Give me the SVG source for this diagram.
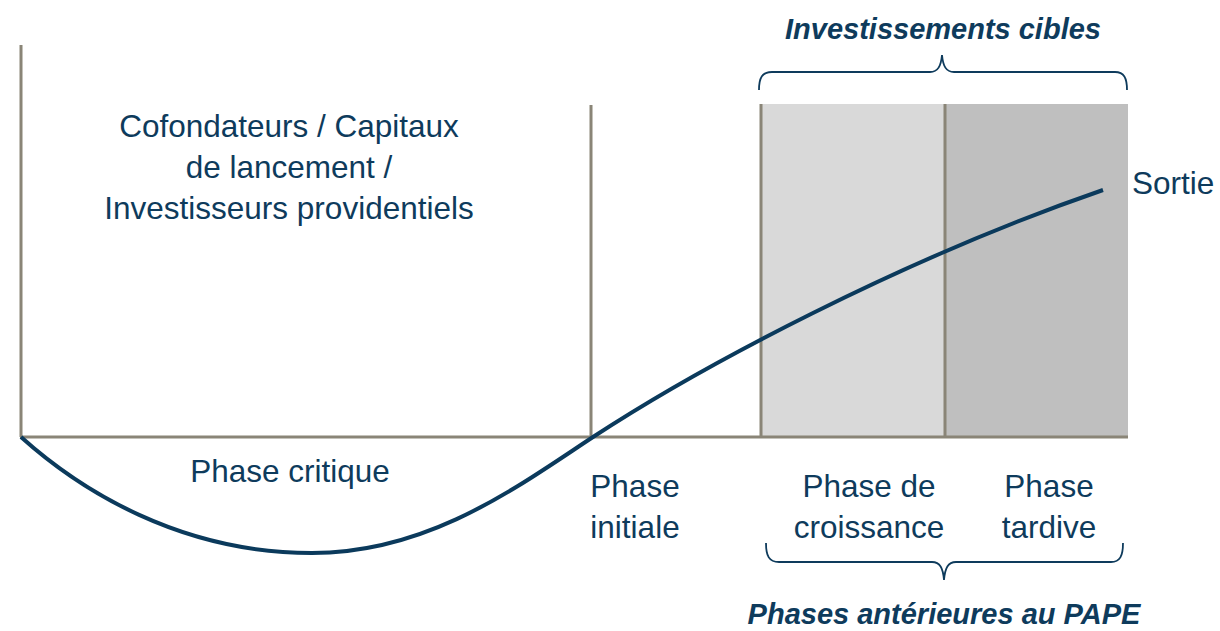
<svg xmlns="http://www.w3.org/2000/svg" width="1220" height="631" viewBox="0 0 1220 631">
<style>
.ax{stroke:#8A8577;stroke-width:3;fill:none}
.br{stroke:#0E3B5C;stroke-width:1.8;fill:none}
.t{font-family:"Liberation Sans",Arial,sans-serif;font-size:31.5px;fill:#0E3B5C;text-anchor:middle}
.h{font-family:"Liberation Sans",Arial,sans-serif;font-size:29px;font-weight:bold;font-style:italic;fill:#0E3B5C;text-anchor:middle}
</style>
<rect width="1220" height="631" fill="#fff"/>
<g id="zones">
<rect x="761" y="104" width="184" height="333" fill="#D9D9D9"/>
<rect x="945" y="104" width="183" height="333" fill="#BFBFBF"/>
</g>
<g id="axes">
<line class="ax" x1="21" y1="45" x2="21" y2="437"/>
<line class="ax" x1="20" y1="437" x2="1128" y2="437"/>
<line class="ax" x1="591" y1="105" x2="591" y2="437"/>
<line class="ax" x1="761" y1="104" x2="761" y2="437"/>
<line class="ax" x1="945" y1="104" x2="945" y2="437"/>
</g>
<g id="connectors">
<path d="M21,437 C80,490 180,553 312,553 C430,553 520,485 593,437 C700,367 900,260 1103,190" stroke="#0B3A5C" stroke-width="4" fill="none"/>
<path class="br" d="M759,90 C759,78 762,72 772,72 L930,72 C938,72 941,66 942,55 C943,66 946,72 954,72 L1115,72 C1124,72 1127,78 1127,90"/>
<path class="br" d="M766,543 C766,556 769,562 779,562 L932,562 C940,562 943,568 944,580 C945,568 948,562 956,562 L1111,562 C1120,562 1123,556 1123,543"/>
</g>
<g id="labels">
<text class="h" x="943" y="39">Investissements cibles</text>
<text class="h" x="944" y="624">Phases antérieures au PAPE</text>
<text class="t" x="289" y="137">Cofondateurs / Capitaux</text>
<text class="t" x="289" y="178">de lancement /</text>
<text class="t" x="289" y="219">Investisseurs providentiels</text>
<text class="t" x="290" y="482">Phase critique</text>
<text class="t" x="635" y="497">Phase</text>
<text class="t" x="635" y="538">initiale</text>
<text class="t" x="869" y="497">Phase de</text>
<text class="t" x="869" y="538">croissance</text>
<text class="t" x="1049" y="497">Phase</text>
<text class="t" x="1049" y="538">tardive</text>
<text class="t" x="1132" y="194" style="text-anchor:start">Sortie</text>
</g>
</svg>
